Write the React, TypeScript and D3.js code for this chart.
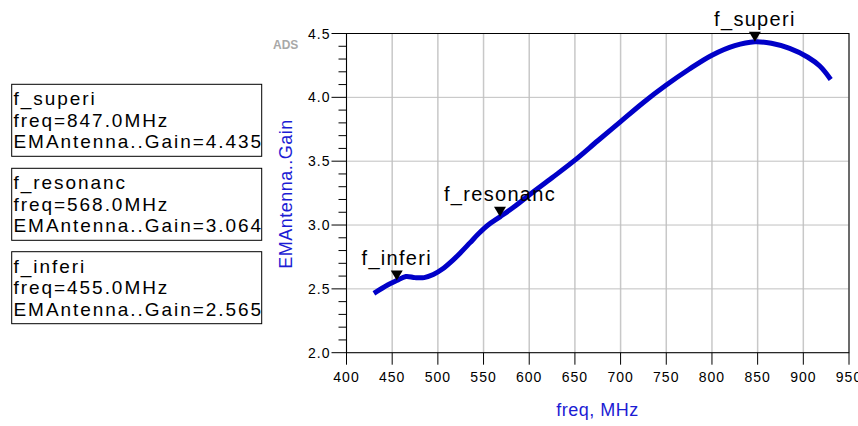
import React from "react";
import * as d3 from "d3";

const freqs = [430, 445, 455, 465, 475, 485, 495, 505, 515, 525, 535, 545, 555, 568, 585, 600, 625, 650, 675, 700, 725, 750, 775, 800, 825, 847, 865, 885, 905, 918, 930];
const gains = [2.465, 2.53, 2.565, 2.597, 2.588, 2.588, 2.612, 2.655, 2.715, 2.785, 2.86, 2.935, 3.0, 3.064, 3.15, 3.235, 3.37, 3.508, 3.66, 3.81, 3.96, 4.096, 4.22, 4.33, 4.405, 4.435, 4.423, 4.383, 4.314, 4.245, 4.14];

const xTicks = [400, 450, 500, 550, 600, 650, 700, 750, 800, 850, 900, 950];
const yTicks = [2.0, 2.5, 3.0, 3.5, 4.0, 4.5];
const yMinorTicks = [2.1, 2.2, 2.3, 2.4, 2.6, 2.7, 2.8, 2.9, 3.1, 3.2, 3.3, 3.4, 3.6, 3.7, 3.8, 3.9, 4.1, 4.2, 4.3, 4.4];

const markerNames = ["f_superi", "f_resonanc", "f_inferi"];
const markerFreqs = [847.0, 568.0, 455.0];
const markerGains = [4.435, 3.064, 2.565];

const xTitle = "freq, MHz";
const yTitle = "EMAntenna..Gain";

export default function App() {
  const W = 858, H = 426;
  const x = d3.scaleLinear().domain([400, 950]).range([346.5, 849]);
  const y = d3.scaleLinear().domain([2, 4.5]).range([352.7, 33.5]);
  const pts = freqs.map((f, i) => [f, gains[i]] as [number, number]);
  const line = d3.line<[number, number]>().x(d => x(d[0])).y(d => y(d[1])).curve(d3.curveCatmullRom);
  const blue = "#1c1cd4";
  const font = "Liberation Sans, Arial, sans-serif";
  const boxTops = [84.3, 168.3, 251.7];

  return (
    <svg width={W} height={H} style={{ position: "absolute", left: 0, top: 0, background: "#fff" }} fontFamily={font}>
      {xTicks.map(t => (
        <line key={"gx" + t} x1={x(t)} x2={x(t)} y1={y(4.5)} y2={y(2)} stroke="#c8c8c8" strokeWidth={1.5} />
      ))}
      {yTicks.map(t => (
        <line key={"gy" + t} x1={x(400)} x2={x(950)} y1={y(t)} y2={y(t)} stroke="#c0c0c0" strokeWidth={1} />
      ))}
      <rect x={x(400)} y={y(4.5)} width={x(950) - x(400)} height={y(2) - y(4.5)} fill="none" stroke="#000" strokeWidth={1} />
      {yTicks.map(t => (
        <g key={"yt" + t}>
          <line x1={x(400) - 15} x2={x(400)} y1={y(t)} y2={y(t)} stroke="#000" />
          <text x={x(400) - 16} y={y(t) + 5} textAnchor="end" fontSize={14} letterSpacing={1} fill="#000">{t.toFixed(1)}</text>
        </g>
      ))}
      {yMinorTicks.map(t => (
        <line key={"ym" + t} x1={x(400) - 8} x2={x(400)} y1={y(t)} y2={y(t)} stroke="#000" />
      ))}
      {xTicks.map(t => (
        <g key={"xt" + t}>
          <line x1={x(t)} x2={x(t)} y1={y(2)} y2={y(2) + 12} stroke="#000" />
          <text x={x(t)} y={y(2) + 29} textAnchor="middle" fontSize={14} letterSpacing={1} fill="#000">{t}</text>
        </g>
      ))}
      <path d={line(pts) || ""} fill="none" stroke="#0000c8" strokeWidth={5} strokeLinejoin="round" />
      {markerNames.map((n, i) => {
        const mx = x(markerFreqs[i]);
        const my = y(markerGains[i]);
        return (
          <g key={"m" + n}>
            <path d={`M${mx - 6},${my - 10} L${mx + 6},${my - 10} L${mx},${my} Z`} fill="#000" />
            <text x={mx} y={my - 16} textAnchor="middle" fontSize={20} letterSpacing={1.3} fill="#000">{n}</text>
          </g>
        );
      })}
      <text x={597.5} y={416} textAnchor="middle" fontSize={18} letterSpacing={0.5} fill={blue}>{xTitle}</text>
      <text transform="translate(292,194) rotate(-90)" textAnchor="middle" fontSize={18} letterSpacing={0.5} fill={blue}>{yTitle}</text>
      <text x={273} y={49.3} fontSize={12} fontWeight="bold" fill="#a8a8a8">ADS</text>
      {markerNames.map((n, i) => {
        const top = boxTops[i];
        return (
          <g key={"lb" + n}>
            <rect x={11.7} y={top} width={250} height={72} fill="#fff" stroke="#000" strokeWidth={1} />
            <text x={13.5} y={top + 21} fontSize={19} letterSpacing={1.95} fill="#000">{n}</text>
            <text x={13.5} y={top + 42.5} fontSize={19} letterSpacing={1.95} fill="#000">{`freq=${markerFreqs[i].toFixed(1)}MHz`}</text>
            <text x={13.5} y={top + 64} fontSize={19} letterSpacing={1.95} fill="#000">{`EMAntenna..Gain=${markerGains[i].toFixed(3)}`}</text>
          </g>
        );
      })}
    </svg>
  );
}
